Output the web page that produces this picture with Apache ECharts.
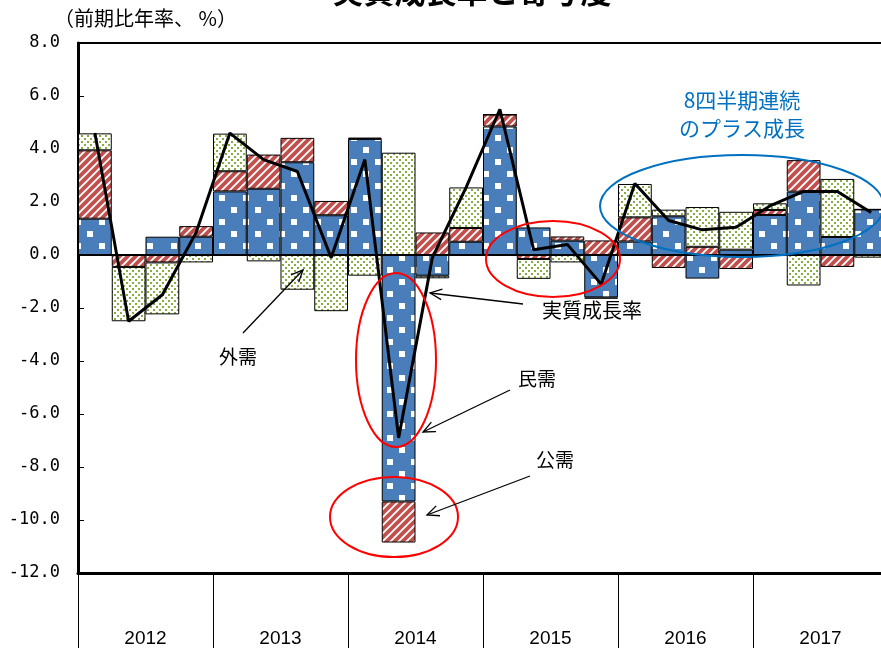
<!DOCTYPE html>
<html><head><meta charset="utf-8">
<script src="https://cdn.jsdelivr.net/npm/echarts@6/dist/echarts.min.js"></script>
<style>html,body{margin:0;padding:0;background:#fff;overflow:hidden;width:881px;height:648px}#c{width:892px;height:648px}</style>
</head><body><div id="c"></div>
<script>
// ---- data ----
const quarters = ['2012Q1','2012Q2','2012Q3','2012Q4','2013Q1','2013Q2','2013Q3','2013Q4',
  '2014Q1','2014Q2','2014Q3','2014Q4','2015Q1','2015Q2','2015Q3','2015Q4',
  '2016Q1','2016Q2','2016Q3','2016Q4','2017Q1','2017Q2','2017Q3','2017Q4'];
const years = ['2012','2013','2014','2015','2016','2017'];
// 民需 (private demand)
const minju = [1.37, 0, 0.69, 0.69, 2.4, 2.5, 3.5, 1.5, 4.38, -9.3, -0.78, 0.5,
  4.85, 1.04, 0.54, -1.6, 0.51, 1.46, -0.89, 0.2, 1.51, 2.39, 0.68, 1.72];
// 公需 (public demand)
const koju = [2.58, -0.45, -0.28, 0.4, 0.76, 1.29, 0.92, 0.54, 0.05, -1.55, 0.85, 0.52,
  0.45, -0.15, 0.16, 0.55, 0.91, -0.49, 0.31, -0.53, 0.19, 1.19, -0.45, 0];
// 外需 (external demand)
const gaiju = [0.64, -2.05, -1.96, -0.28, 1.42, -0.24, -1.31, -2.12, -0.78, 3.86, -0.1, 1.53,
  0, -0.75, -0.28, -0.05, 1.26, 0.25, 1.5, 1.43, 0.25, -1.15, 2.19, -0.1];
// 実質成長率 (real growth)
const growth = [4.6, -2.5, -1.5, 0.85, 4.6, 3.6, 3.15, -0.1, 3.6, -6.9, -0.1, 2.55,
  5.5, 0.2, 0.4, -1.1, 2.7, 1.3, 0.95, 1.05, 1.85, 2.4, 2.4, 1.6];

// ---- patterns ----
function tile(w, h, draw) {
  const c = document.createElement('canvas'); c.width = w; c.height = h;
  draw(c.getContext('2d')); return { image: c, repeat: 'repeat' };
}
const bluePat = tile(24, 24, g => {
  g.fillStyle = '#4a7ebb'; g.fillRect(0, 0, 24, 24);
  g.fillStyle = '#ffffff'; g.fillRect(3, 3, 6, 6); g.fillRect(15, 15, 6, 6);
});
const redPat = tile(8, 8, g => {
  g.fillStyle = '#ffffff'; g.fillRect(0, 0, 8, 8);
  g.strokeStyle = '#c0504d'; g.lineWidth = 3.8;
  [[0, 8, 8, 0], [-4, 4, 4, -4], [4, 12, 12, 4]].forEach(l => {
    g.beginPath(); g.moveTo(l[0], l[1]); g.lineTo(l[2], l[3]); g.stroke();
  });
});
const greenPat = tile(6, 6, g => {
  g.fillStyle = '#ffffff'; g.fillRect(0, 0, 6, 6);
  g.fillStyle = '#86ad40'; g.fillRect(0, 0, 2, 2); g.fillRect(3, 3, 2, 2);
});

function arrow(x1, y1, x2, y2) {
  const a = Math.atan2(y1 - y2, x1 - x2), L = 13, s = 0.42;
  return [
    { type: 'line', shape: { x1, y1, x2, y2 }, style: { stroke: '#000', lineWidth: 1.3 }, z: 100 },
    { type: 'polyline', shape: { points: [
      [x2 + L * Math.cos(a + s), y2 + L * Math.sin(a + s)], [x2, y2],
      [x2 + L * Math.cos(a - s), y2 + L * Math.sin(a - s)]] },
      style: { stroke: '#000', lineWidth: 1.3, fill: null }, z: 100 }
  ];
}
function ell(cx, cy, rx, ry, col) {
  return { type: 'ellipse', shape: { cx, cy, rx, ry }, style: { fill: null, stroke: col, lineWidth: 2 }, z: 100 };
}
function txt(t, x, y, size, col, align, weight) {
  return { type: 'text', x, y, z: 100, style: { text: t, fill: col || '#000', align: align || 'center',
    verticalAlign: 'middle', font: (weight || 'normal') + ' ' + size + 'px "Noto Sans CJK JP"' } };
}

const border = { borderColor: '#000', borderWidth: 1 };
const chart = echarts.init(document.getElementById('c'));
chart.setOption({
  animation: false,
  grid: { left: 78, top: 43, width: 810, height: 530, show: true, borderColor: '#000', borderWidth: 2 },
  xAxis: [
    { type: 'category', data: quarters,
      axisLine: { onZero: true, lineStyle: { color: '#000', width: 2 } },
      axisTick: { show: false }, axisLabel: { show: false } },
    { type: 'category', data: years, position: 'bottom',
      axisLine: { show: true, onZero: false, lineStyle: { color: '#000', width: 3 } },
      axisTick: { show: true, interval: 0, alignWithLabel: false, length: 80, lineStyle: { color: '#000', width: 1 } },
      axisLabel: { interval: 0, margin: 56, color: '#000', fontSize: 19, fontFamily: 'Liberation Sans' } }
  ],
  yAxis: { type: 'value', min: -12, max: 8, interval: 2,
    axisLine: { show: true, lineStyle: { color: '#000', width: 3 } },
    axisTick: { show: true, inside: true, length: 6, lineStyle: { color: '#000' } },
    splitLine: { show: false },
    axisLabel: { margin: 18, color: '#000', fontSize: 17, fontFamily: 'DejaVu Sans Mono',
      formatter: v => v.toFixed(1) } },
  series: [
    { name: '民需', type: 'bar', stack: 'a', data: minju, barCategoryGap: '0%', itemStyle: Object.assign({ color: bluePat }, border) },
    { name: '公需', type: 'bar', stack: 'a', data: koju, itemStyle: Object.assign({ color: redPat }, border) },
    { name: '外需', type: 'bar', stack: 'a', data: gaiju, itemStyle: Object.assign({ color: greenPat }, border) },
    { name: '実質成長率', type: 'line', data: growth, symbol: 'none', z: 10,
      lineStyle: { color: '#000', width: 3 } }
  ],
  graphic: [
    txt('実質成長率と寄与度', 472, -9, 31, '#000', 'center', 'bold'),
    txt('（前期比年率、 %）', 54, 18, 20, '#000', 'left'),
    ell(396, 360, 40, 87, '#ff0000'),
    ell(394, 517, 64, 40, '#ff0000'),
    ell(553, 259, 67, 38, '#ff0000'),
    ell(742, 206, 142, 51, '#0070c0'),
    txt('8四半期連続', 742, 100, 21, '#0070c0'),
    txt('のプラス成長', 742, 128, 21, '#0070c0'),
    txt('外需', 238, 357, 19),
    txt('実質成長率', 592, 310, 20),
    txt('民需', 537, 379, 19),
    txt('公需', 555, 460, 19),
    ...arrow(243, 333, 303, 270),
    ...arrow(523, 304, 430, 293),
    ...arrow(510, 390, 423, 432),
    ...arrow(530, 476, 427, 515)
  ]
});
</script></body></html>
